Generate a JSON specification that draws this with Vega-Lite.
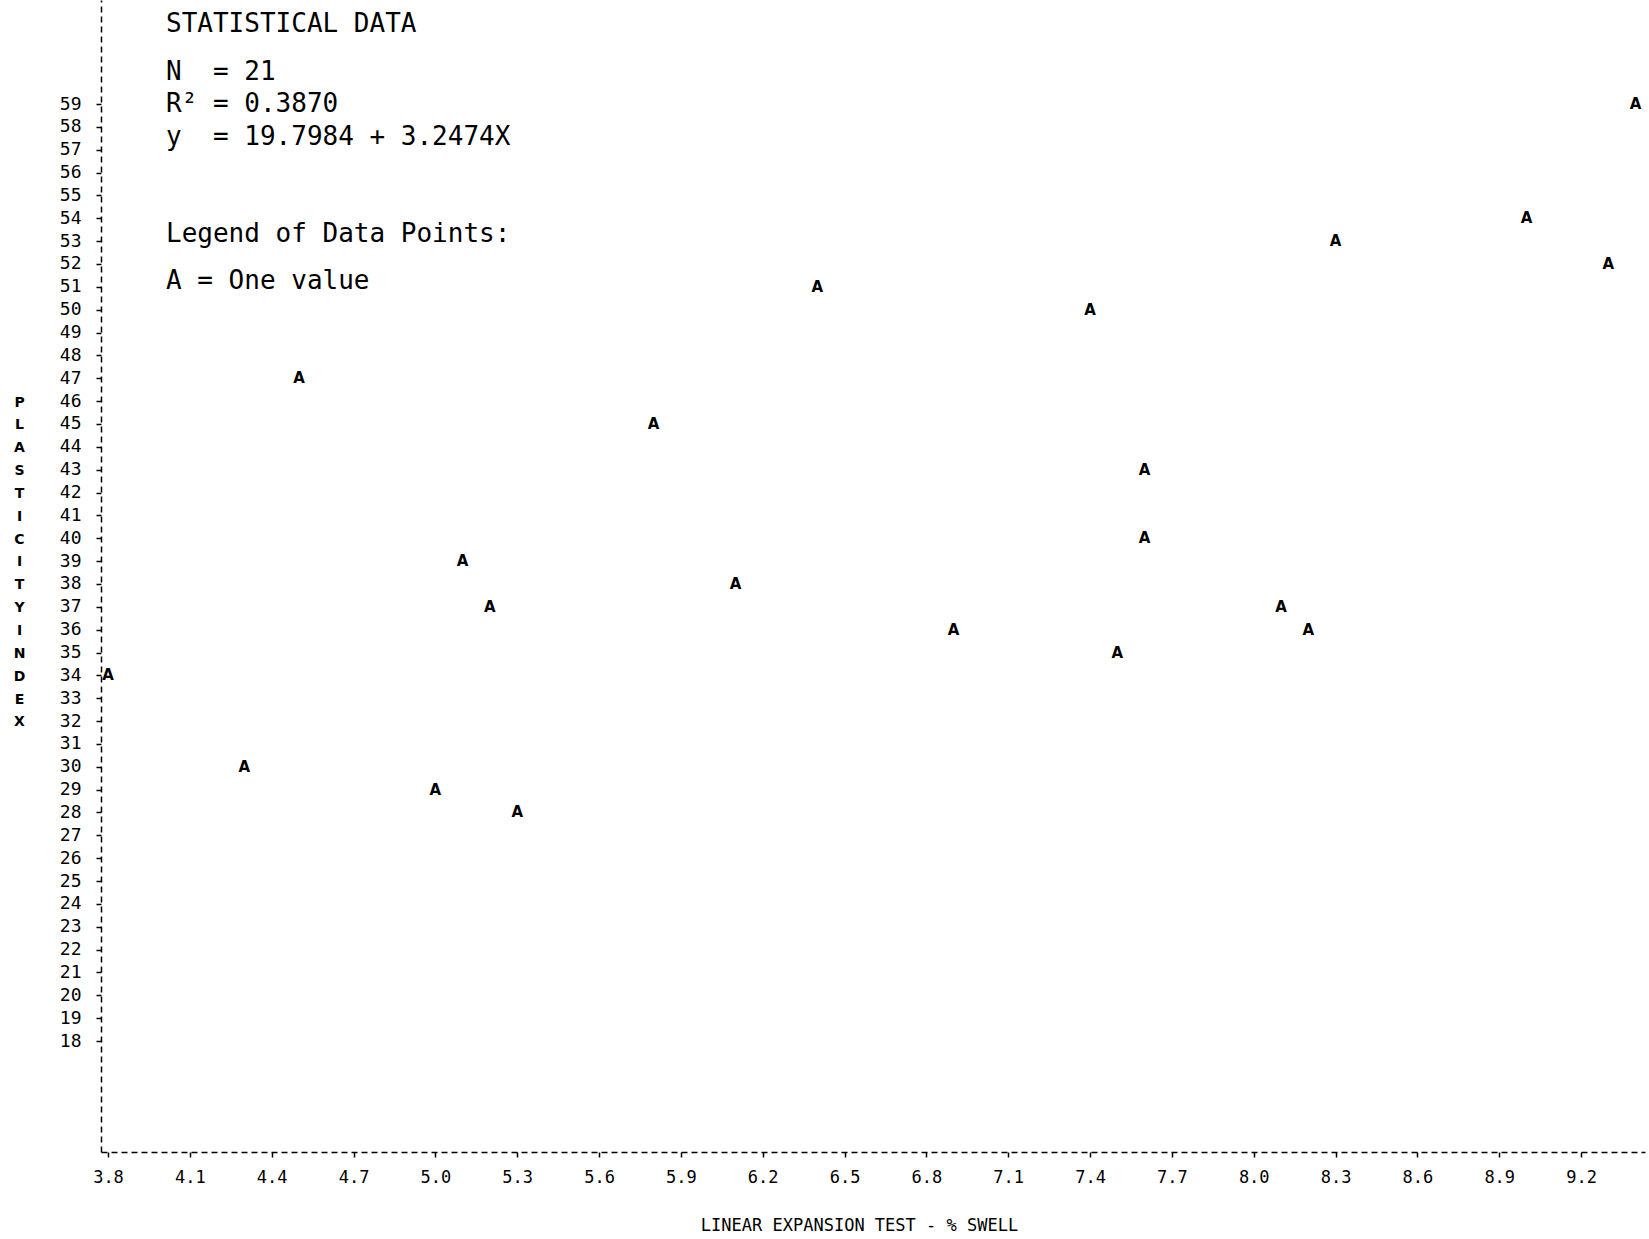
{
  "$schema": "https://vega.github.io/schema/vega-lite/v6.json",
  "width": 1544,
  "height": 1152,
  "autosize": {"type": "none"},
  "padding": {"left": 101, "top": 0, "right": 4, "bottom": 87},
  "background": "white",
  "config": {"view": {"stroke": null}},
  "data": {
    "values": [
      {"swell": 3.8, "pi": 34},
      {"swell": 4.3, "pi": 30},
      {"swell": 4.5, "pi": 47},
      {"swell": 5.0, "pi": 29},
      {"swell": 5.1, "pi": 39},
      {"swell": 5.2, "pi": 37},
      {"swell": 5.3, "pi": 28},
      {"swell": 5.8, "pi": 45},
      {"swell": 6.1, "pi": 38},
      {"swell": 6.4, "pi": 51},
      {"swell": 6.9, "pi": 36},
      {"swell": 7.4, "pi": 50},
      {"swell": 7.5, "pi": 35},
      {"swell": 7.6, "pi": 43},
      {"swell": 7.6, "pi": 40},
      {"swell": 8.1, "pi": 37},
      {"swell": 8.2, "pi": 36},
      {"swell": 8.3, "pi": 53},
      {"swell": 9.0, "pi": 54},
      {"swell": 9.3, "pi": 52},
      {"swell": 9.4, "pi": 59}
    ]
  },
  "layer": [
    {
      "mark": {"type": "text", "text": "A", "font": "DejaVu Sans", "fontWeight": "bold", "fontSize": 15, "align": "center", "baseline": "middle", "color": "#000"},
      "encoding": {
        "x": {
          "field": "swell", "type": "quantitative",
          "scale": {"domain": [3.7743, 9.4343], "nice": false, "zero": false},
          "axis": {
            "values": [3.8, 4.1, 4.4, 4.7, 5.0, 5.3, 5.6, 5.9, 6.2, 6.5, 6.8, 7.1, 7.4, 7.7, 8.0, 8.3, 8.6, 8.9, 9.2],
            "tickCount": 60,
            "format": ".1f",
            "labelFont": "DejaVu Sans Mono", "labelFontSize": 17, "labelColor": "#000",
            "labelPadding": 12, "labelFlush": false, "labelOverlap": false,
            "tickSize": 5, "tickColor": "#000", "tickWidth": 1.5,
            "domainColor": "#000", "domainDash": [6, 4], "domainWidth": 1.5,
            "grid": false,
            "title": "LINEAR EXPANSION TEST - % SWELL",
            "titleFont": "DejaVu Sans Mono", "titleFontSize": 17, "titleFontWeight": "normal", "titleColor": "#000",
            "titleX": 758, "titleY": 73, "titleBaseline": "middle", "titleAlign": "center"
          }
        },
        "y": {
          "field": "pi", "type": "quantitative",
          "scale": {"domain": [13.144, 63.551], "nice": false, "zero": false},
          "axis": {
            "values": [18, 19, 20, 21, 22, 23, 24, 25, 26, 27, 28, 29, 30, 31, 32, 33, 34, 35, 36, 37, 38, 39, 40, 41, 42, 43, 44, 45, 46, 47, 48, 49, 50, 51, 52, 53, 54, 55, 56, 57, 58, 59],
            "tickCount": 100,
            "format": "d",
            "labelFont": "DejaVu Sans Mono", "labelFontSize": 18, "labelColor": "#000",
            "labelPadding": 15, "labelOverlap": false, "labelFlush": false,
            "tickSize": 5, "tickColor": "#000", "tickWidth": 1.5,
            "domainColor": "#000", "domainDash": [6, 4], "domainWidth": 1.5,
            "grid": false,
            "title": ["P", "L", "A", "S", "T", "I", "C", "I", "T", "Y", " ", "I", "N", "D", "E", "X"],
            "titleFont": "DejaVu Sans", "titleFontSize": 14, "titleFontWeight": "bold", "titleColor": "#000",
            "titleAngle": 0, "titleX": -82, "titleY": 395, "titleBaseline": "top", "titleAlign": "center",
            "titleLineHeight": 22.854
          }
        }
      }
    },
    {
      "data": {"values": [{}]},
      "mark": {"type": "text", "text": "STATISTICAL DATA", "font": "DejaVu Sans Mono", "fontSize": 26, "align": "left", "baseline": "middle", "color": "#000"},
      "encoding": {"x": {"datum": 4.0126}, "y": {"datum": 62.49}}
    },
    {
      "data": {"values": [{}]},
      "mark": {"type": "text", "text": "N\u00a0\u00a0= 21", "font": "DejaVu Sans Mono", "fontSize": 26, "align": "left", "baseline": "middle", "color": "#000"},
      "encoding": {"x": {"datum": 4.0126}, "y": {"datum": 60.42}}
    },
    {
      "data": {"values": [{}]},
      "mark": {"type": "text", "text": "R² = 0.3870", "font": "DejaVu Sans Mono", "fontSize": 26, "align": "left", "baseline": "middle", "color": "#000"},
      "encoding": {"x": {"datum": 4.0126}, "y": {"datum": 59.0}}
    },
    {
      "data": {"values": [{}]},
      "mark": {"type": "text", "text": "y\u00a0\u00a0= 19.7984 + 3.2474X", "font": "DejaVu Sans Mono", "fontSize": 26, "align": "left", "baseline": "middle", "color": "#000"},
      "encoding": {"x": {"datum": 4.0126}, "y": {"datum": 57.57}}
    },
    {
      "data": {"values": [{}]},
      "mark": {"type": "text", "text": "Legend of Data Points:", "font": "DejaVu Sans Mono", "fontSize": 26, "align": "left", "baseline": "middle", "color": "#000"},
      "encoding": {"x": {"datum": 4.0126}, "y": {"datum": 53.33}}
    },
    {
      "data": {"values": [{}]},
      "mark": {"type": "text", "text": "A = One value", "font": "DejaVu Sans Mono", "fontSize": 26, "align": "left", "baseline": "middle", "color": "#000"},
      "encoding": {"x": {"datum": 4.0126}, "y": {"datum": 51.26}}
    }
  ]
}
